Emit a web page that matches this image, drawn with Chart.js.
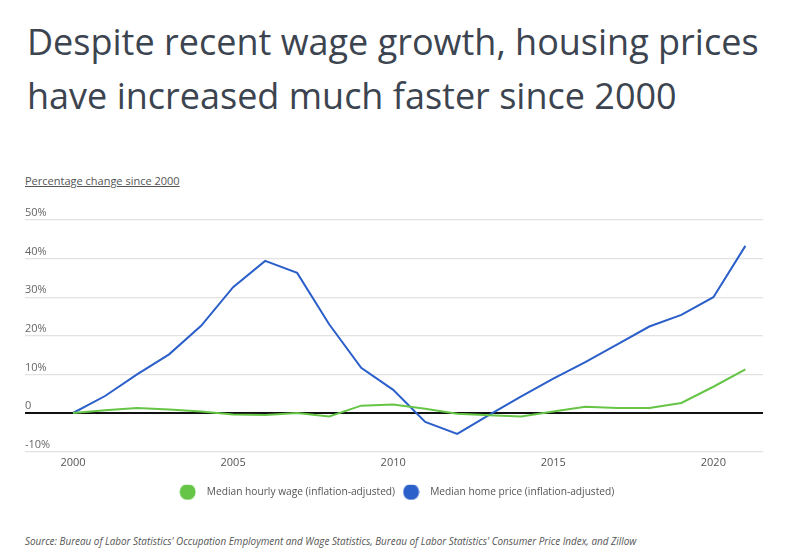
<!DOCTYPE html>
<html>
<head>
<meta charset="utf-8">
<script src="https://cdn.jsdelivr.net/npm/chart.js@4"></script>
<style>
    body { margin: 0; background: #fff; font-family: "Open Sans", sans-serif; }
    #page { position: relative; width: 793px; height: 554px; overflow: hidden; }
    #title { position: absolute; left: 27px; top: 15px; width: 780px; font-size: 36px; line-height: 54px; color: #3c4450; }
    #subtitle { position: absolute; left: 25px; top: 173px; font-size: 11px; color: #555; text-decoration: underline; }
    #source { position: absolute; left: 25px; top: 534px; font-size: 9.9px; font-style: italic; color: #555; }
    #wrap { position: absolute; left: 0; top: 195px; width: 793px; height: 312px; }
</style>
</head>
<body>
<div id="page">
    <div id="title">Despite recent wage growth, housing prices have increased much faster since 2000</div>
    <div id="subtitle">Percentage change since 2000</div>
    <div id="wrap"><canvas id="myChart"></canvas></div>
    <div id="source">Source: Bureau of Labor Statistics' Occupation Employment and Wage Statistics, Bureau of Labor Statistics' Consumer Price Index, and Zillow</div>
</div>
<script>
// Données
const years = [2000, 2001, 2002, 2003, 2004, 2005, 2006, 2007, 2008, 2009, 2010,
    2011, 2012, 2013, 2014, 2015, 2016, 2017, 2018, 2019, 2020, 2021];
const wage = [0, 0.7, 1.3, 0.9, 0.4, -0.4, -0.5, 0, -0.9, 1.9, 2.2,
    1.1, -0.2, -0.6, -0.9, 0.4, 1.6, 1.3, 1.3, 2.6, 6.8, 11.3];
const homePrice = [0, 4.4, 10, 15.2, 22.6, 32.6, 39.4, 36.3, 23, 11.7, 6,
    -2.3, -5.4, -0.5, 4.3, 8.9, 13.2, 17.8, 22.4, 25.4, 30, 43.3];
const xTicks = [2000, 2005, 2010, 2015, 2020];
const yTicks = [-10, 0, 10, 20, 30, 40, 50];

// Points pour le graphique
function toPoints(values) {
    let pts = [];
    for (let i = 0; i < years.length; i++) {
        pts.push({ x: years[i], y: values[i] });
    }
    return pts;
}

// Pastille ronde pour la légende (cercle au centre d'une boîte plus large)
function makeDot(color) {
    const c = document.createElement('canvas');
    c.width = 17;
    c.height = 17;
    const g = c.getContext('2d');
    g.fillStyle = color;
    g.beginPath();
    g.arc(8.5, 8.5, 8, 0, Math.PI * 2);
    g.fill();
    return c;
}

const ctx = document.getElementById('myChart');

const chart = new Chart(ctx, {
    type: 'line',
    data: {
        datasets: [{
            label: 'Median hourly wage (inflation-adjusted)',
            data: toPoints(wage),
            borderColor: '#66c547',
            backgroundColor: '#66c547',
            pointStyle: makeDot('#66c547'),
            borderWidth: 2,
            pointRadius: 0,
            tension: 0
        }, {
            label: 'Median home price (inflation-adjusted)',
            data: toPoints(homePrice),
            borderColor: '#2b5fc9',
            backgroundColor: '#2b5fc9',
            pointStyle: makeDot('#2b5fc9'),
            borderWidth: 2,
            pointRadius: 0,
            tension: 0
        }]
    },
    options: {
        responsive: true,
        maintainAspectRatio: false,
        animation: false,
        layout: { padding: { left: 25, right: 30, top: 25, bottom: 0 } },
        plugins: {
            tooltip: { enabled: false },
            legend: {
                position: 'bottom',
                labels: {
                    usePointStyle: true,
                    pointStyleWidth: 28,
                    boxHeight: 11,
                    padding: 2,
                    color: '#555',
                    font: { family: 'Open Sans', size: 10.2 }
                }
            }
        },
        scales: {
            x: {
                type: 'linear',
                min: 1998.5,
                max: 2021.55,
                afterBuildTicks: function(scale) {
                    scale.ticks = xTicks.map(v => ({ value: v }));
                },
                // espace supplémentaire sous les années
                afterFit: function(scale) {
                    scale.height += 10;
                },
                ticks: {
                    padding: 5,
                    maxRotation: 0,
                    color: '#555',
                    font: { family: 'Open Sans', size: 11 },
                    callback: v => String(v)
                },
                grid: { display: false, drawTicks: false },
                border: { display: false }
            },
            y: {
                min: -10,
                max: 50,
                afterBuildTicks: function(scale) {
                    scale.ticks = yTicks.map(v => ({ value: v }));
                },
                ticks: {
                    mirror: true,
                    padding: 0,
                    labelOffset: -7,
                    color: '#666',
                    font: { family: 'Open Sans', size: 11 },
                    callback: v => v === 0 ? '0' : v + '%'
                },
                grid: {
                    drawTicks: false,
                    color: c => c.tick && c.tick.value === 0 ? '#111' : '#e2e2e2',
                    lineWidth: c => c.tick && c.tick.value === 0 ? 2 : 1.3
                },
                border: { display: false }
            }
        }
    }
});
</script>
</body>
</html>
